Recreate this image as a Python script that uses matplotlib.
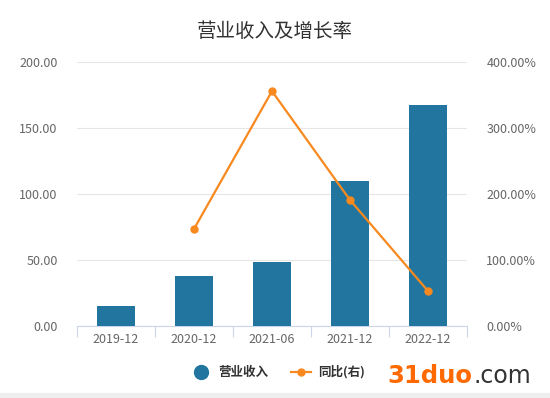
import matplotlib
matplotlib.use("Agg")
import matplotlib.pyplot as plt
from matplotlib.lines import Line2D
import numpy as np

plt.rcParams['font.family'] = ['Noto Sans CJK SC', 'DejaVu Sans']

categories = ["2019-12", "2020-12", "2021-06", "2021-12", "2022-12"]
revenue = [15.2, 37.9, 48.5, 109.8, 167.4]
growth_x = ["2020-12", "2021-06", "2021-12", "2022-12"]
growth = [147.0, 356.0, 191.0, 53.0]
left_ticks = [0, 50, 100, 150, 200]
right_ticks = [0, 100, 200, 300, 400]

bar_color = "#21759f"
line_color = "#f7891f"
tick_color = "#666666"

fig = plt.figure(figsize=(5.5, 3.98), dpi=100)
ax = fig.add_axes([0.14, 0.181, 0.709, 0.663])
ax2 = ax.twinx()

x = np.arange(len(categories))
ax.bar(x, revenue, width=0.49, color=bar_color, zorder=3)
gx = [categories.index(c) for c in growth_x]
ax2.plot(gx, growth, color=line_color, lw=1.6, marker='o', ms=5, zorder=4)

ax.set_xlim(-0.5, len(categories) - 0.5)
ax.set_ylim(0, 200)
ax2.set_ylim(0, 400)
ax.set_yticks(left_ticks)
ax.set_yticklabels([f"{v:.2f}" for v in left_ticks])
ax2.set_yticks(right_ticks)
ax2.set_yticklabels([f"{v:.2f}%" for v in right_ticks])

ax.grid(axis='y', color="#e6e6e6", lw=0.8, zorder=0)
for a in (ax, ax2):
    for s in a.spines.values():
        s.set_visible(False)
    a.tick_params(axis='y', length=0, labelsize=9, labelcolor=tick_color)
ax.tick_params(axis='y', pad=14)
ax2.tick_params(axis='y', pad=14)
ax.spines['bottom'].set_visible(True)
ax.spines['bottom'].set_color("#ccd6eb")
ax.set_xticks(x)
ax.set_xticklabels(categories)
ax.tick_params(axis='x', length=0, labelsize=9, labelcolor=tick_color, pad=5)
ax.set_xticks(np.arange(-0.5, len(categories)), minor=True)
ax.tick_params(axis='x', which='minor', length=8, color="#ccd6eb", width=0.8)

fig.text(0.5, 0.922, "营业收入及增长率", ha='center', va='center', fontsize=14, color="#333333")

handles = [Line2D([], [], marker='o', color=bar_color, ls='none', ms=10),
           Line2D([], [], marker='o', color=line_color, lw=1.6, ms=5)]
fig.legend(handles, ["营业收入", "同比(右)"], loc='center', bbox_to_anchor=(0.505, 0.065),
           ncol=2, frameon=False, handlelength=1.6, columnspacing=1.8, handletextpad=0.6,
           prop={'weight': 'bold', 'size': 9}, labelcolor="#333333")

fig.text(387 / 550, 1 - 383 / 398, "31duo", ha='left', va='baseline', fontsize=17.5,
         fontweight='bold', color="#ff6a00", family='DejaVu Sans')
fig.text(473 / 550, 1 - 383 / 398, ".com", ha='left', va='baseline', fontsize=17,
         color="#333333", family='DejaVu Sans')

fig.patches.append(plt.Rectangle((0, 0), 1, 5 / 398, transform=fig.transFigure,
                                 color="#eeeeee", zorder=0))

fig.savefig("out.png", dpi=100)
